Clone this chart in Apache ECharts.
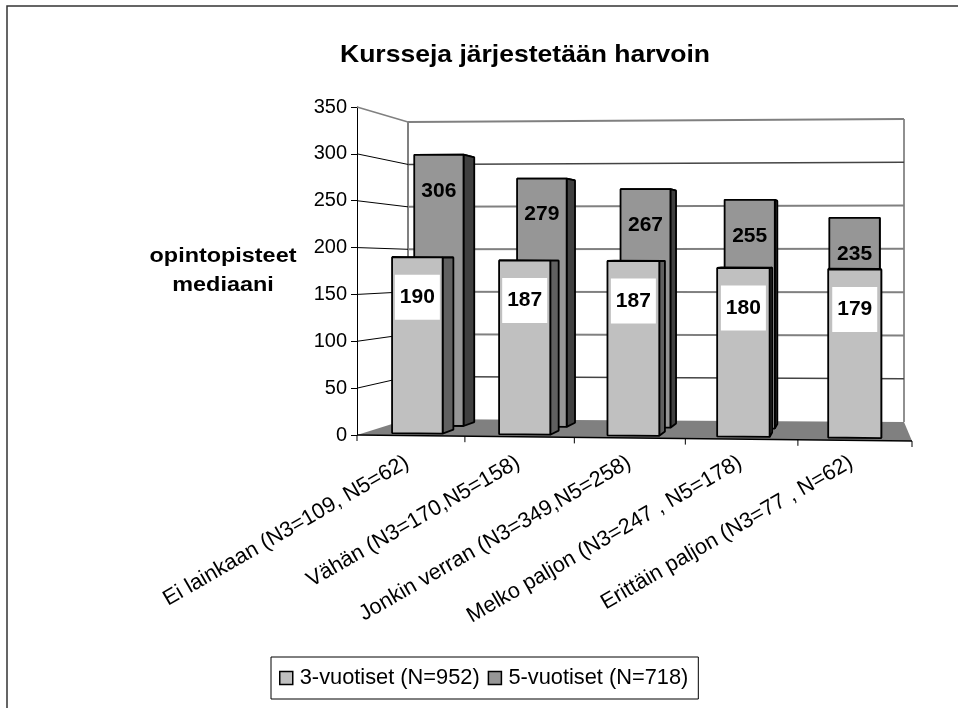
<!DOCTYPE html>
<html>
<head>
<meta charset="utf-8">
<title>Kursseja järjestetään harvoin</title>
<style>
  html, body { margin: 0; padding: 0; background: #fff; }
  #chart { width: 958px; height: 708px; }
</style>
<script src="https://cdn.jsdelivr.net/npm/echarts@6/dist/echarts.min.js"></script>
</head>
<body>
<div id="chart"></div>
<script>
// chart data
const categories = [
  'Ei lainkaan (N3=109, N5=62)',
  'Vähän (N3=170,N5=158)',
  'Jonkin verran (N3=349,N5=258)',
  'Melko paljon (N3=247 , N5=178)',
  'Erittäin paljon (N3=77 , N=62)',
];
const values3 = [190, 187, 187, 180, 179];
const values5 = [306, 279, 267, 255, 235];
const yTicks = [0, 50, 100, 150, 200, 250, 300, 350];
const name3 = '3-vuotiset (N=952)';
const name5 = '5-vuotiset (N=718)';

const FONT = 'Liberation Sans';
const YMAX = 350;

// fake 3D: a point is u (0..1 along the floor), v (value), t (0 front .. 1 back wall)
function project(params, api, u, v, t) {
  const cs = params.coordSys;
  const fx = cs.x + cs.width * (u + 0.035 * u * (u - 1));
  const fy = api.coord([0, v])[1] + 6 * u * (1 - v / YMAX);
  const bx = 408 + 496 * u;
  const y0 = 419 + 3 * u;
  const yTop = 122 - 3 * u;
  const by = y0 + (yTop - y0) * v / YMAX;
  return [fx + (bx - fx) * t, fy + (by - fy) * t];
}

function poly(points, fill, stroke, width) {
  return {
    type: 'polygon',
    shape: { points },
    style: { fill, stroke, lineWidth: width, lineJoin: 'bevel' },
  };
}

function line(a, b, stroke, width) {
  return {
    type: 'line',
    shape: { x1: a[0], y1: a[1], x2: b[0], y2: b[1] },
    style: { stroke, lineWidth: width, fill: null },
  };
}

function barText(x, y, text) {
  return {
    type: 'text',
    x,
    y,
    style: {
      text,
      fill: '#000',
      font: 'bold 21px "' + FONT + '"',
      align: 'center',
      verticalAlign: 'middle',
    },
  };
}

function stretchedText(x, y, text, size, scaleX) {
  return {
    type: 'text',
    x,
    y,
    scaleX,
    style: {
      text,
      fill: '#000',
      font: 'bold ' + size + 'px "' + FONT + '"',
      align: 'center',
      verticalAlign: 'middle',
    },
  };
}

// walls, floor and gridlines, one data item per tick
function renderFrame(params, api) {
  const v = api.value(0);
  const p = (u, val, t) => project(params, api, u, val, t);
  const children = [];
  if (v === 0) {
    children.push(poly([p(0, 0, 0), p(0, 0, 1), p(1, 0, 1), p(1, 0, 0)], '#808080', 'none', 0));
    children.push(line(p(0, 0, 1), p(0, YMAX, 1), '#808080', 2));
    children.push(line(p(1, 0, 1), p(1, YMAX, 1), '#909090', 2));
    children.push(line(p(0, 0, 0), p(1, 0, 0), '#000', 1.5));
    for (let i = 0; i <= categories.length; i++) {
      const a = p(i / categories.length, 0, 0);
      children.push(line(a, [a[0], a[1] + 6], '#000', 1));
    }
    return { type: 'group', children };
  }
  const dark = v === 300 || v === 50;
  const top = v === YMAX;
  children.push(line(p(0, v, 1), p(1, v, 1), dark ? '#444' : '#808080', dark ? 1.4 : 2));
  children.push(line(p(0, v, 0), p(0, v, 1), top ? '#808080' : '#000', top ? 1.5 : 1));
  return { type: 'group', children };
}

function makeBar(t1, t2, du, front, side, labelDy, boxed) {
  return function (params, api) {
    const i = api.value(0);
    const v = api.value(1);
    const cs = params.coordSys;
    const u = (api.coord([i, 0])[0] - cs.x) / cs.width;
    const p = (uu, val, t) => project(params, api, uu, val, t);
    const l = u - du;
    const r = u + du;
    const children = [
      poly([p(l, v, t1), p(l, v, t2), p(r, v, t2), p(r, v, t1)], front, '#000', 1.8),
      poly([p(r, v, t1), p(r, v, t2), p(r, 0, t2), p(r, 0, t1)], side, '#000', 1.8),
      poly([p(l, v, t1), p(r, v, t1), p(r, 0, t1), p(l, 0, t1)], front, '#000', 1.8),
    ];
    const a = p(l, v, t1);
    const b = p(r, v, t1);
    const cx = (a[0] + b[0]) / 2;
    const cy = (a[1] + b[1]) / 2 + labelDy;
    if (boxed) {
      children.push({
        type: 'rect',
        shape: { x: cx - 22.5, y: cy - 22.5, width: 45, height: 45 },
        style: { fill: '#fff' },
      });
    }
    children.push(barText(cx, cy, String(v)));
    return { type: 'group', children };
  };
}

const chart = echarts.init(document.getElementById('chart'));

chart.setOption({
  animation: false,
  backgroundColor: '#fff',
  textStyle: { fontFamily: FONT },
  grid: { left: 357, right: 46, top: 107, bottom: 273 },
  xAxis: {
    type: 'category',
    data: categories,
    axisLine: { show: false },
    axisTick: { show: false },
    axisLabel: {
      rotate: 30,
      interval: 0,
      margin: 23,
      fontSize: 21.7,
      padding: [0, 6, 0, 0],
      color: '#000',
      fontFamily: FONT,
    },
  },
  yAxis: {
    type: 'value',
    min: 0,
    max: YMAX,
    interval: 50,
    splitLine: { show: false },
    axisLine: { show: true, lineStyle: { color: '#000', width: 1 } },
    axisTick: { show: true, length: 6, lineStyle: { color: '#000' } },
    axisLabel: { margin: 10, fontSize: 20, color: '#000', fontFamily: FONT },
  },
  legend: {
    left: 271,
    top: 657,
    padding: [10, 10, 10, 8],
    backgroundColor: '#fff',
    borderColor: '#000',
    borderWidth: 1,
    borderRadius: 0,
    itemWidth: 13,
    itemHeight: 13,
    itemGap: 8,
    icon: 'rect',
    data: [
      { name: name3, itemStyle: { color: '#c0c0c0', borderColor: '#000', borderWidth: 1.5 } },
      { name: name5, itemStyle: { color: '#969696', borderColor: '#000', borderWidth: 1.5 } },
    ],
    textStyle: { fontFamily: FONT, fontSize: 21.8, color: '#000', padding: [0, 0, 0, 2] },
  },
  graphic: [
    {
      type: 'rect',
      shape: { x: 7, y: 6, width: 980, height: 730 },
      style: { fill: 'none', stroke: '#333', lineWidth: 1.5 },
      silent: true,
    },
    stretchedText(525, 55, 'Kursseja järjestetään harvoin', 24, 1.105),
    stretchedText(223, 256, 'opintopisteet', 20, 1.17),
    stretchedText(223, 285, 'mediaani', 20, 1.17),
  ],
  series: [
    {
      type: 'custom',
      silent: true,
      clip: false,
      renderItem: renderFrame,
      data: yTicks.map((v) => [v]),
      encode: { y: 0 },
      z: 1,
    },
    {
      type: 'custom',
      name: name5,
      clip: false,
      renderItem: makeBar(0.6, 0.84, 0.048, '#969696', '#404040', 36, false),
      itemStyle: { color: '#969696' },
      data: values5.map((v, i) => [i, v]),
      encode: { x: 0, y: 1 },
      z: 2,
    },
    {
      type: 'custom',
      name: name3,
      clip: false,
      renderItem: makeBar(0.14, 0.38, 0.0474, '#c0c0c0', '#606060', 40, true),
      itemStyle: { color: '#c0c0c0' },
      data: values3.map((v, i) => [i, v]),
      encode: { x: 0, y: 1 },
      z: 3,
    },
  ],
});
</script>
</body>
</html>
